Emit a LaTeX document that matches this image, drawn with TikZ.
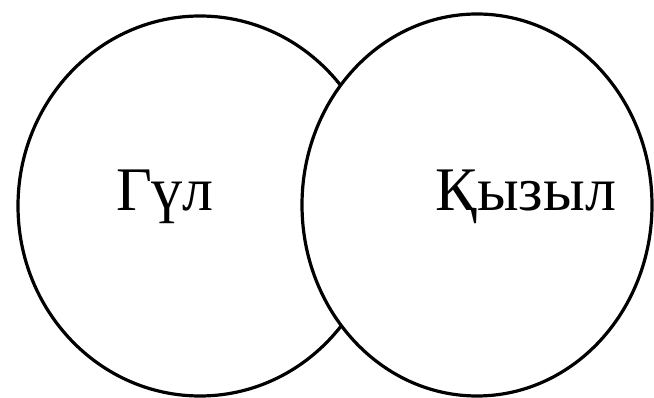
\documentclass[tikz,border=0pt]{standalone}
\usepackage{fontspec}
\setmainfont{Liberation Serif}
\usetikzlibrary{shapes.geometric}
\begin{document}
\begin{tikzpicture}[x=1pt, y=1pt]
  % Define styles
  \tikzstyle{set}=[ellipse, draw=black, line width=3.2pt, fill=white, inner sep=0pt]
  \tikzstyle{word}=[anchor=base, inner sep=0pt, font=\fontsize{62}{62}\selectfont]

  \useasboundingbox (0,0) rectangle (654,398);

  % Sets
  \node[set, minimum width=364pt, minimum height=380pt] (gul) at (200,192) {};
  \node[set, minimum width=350pt, minimum height=382pt] (qyzyl) at (477,193) {};

  % Labels
  \node[word] (gultext) at (165,187) {Гүл};
  \node[word] (qyzyltext) at (526,187) {Қызыл};
\end{tikzpicture}
\end{document}
